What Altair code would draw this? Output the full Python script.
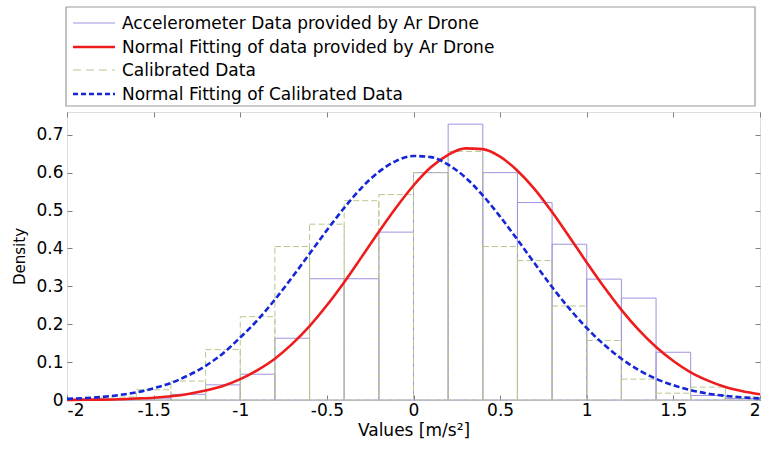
import altair as alt
import pandas as pd

# ---------------- data ----------------
bin_edges = [-2.0, -1.8, -1.6, -1.4, -1.2, -1.0, -0.8, -0.6, -0.4, -0.2, 0.0,
             0.2, 0.4, 0.6, 0.8, 1.0, 1.2, 1.4, 1.6, 1.8, 2.0]
ardrone_density = [0.0, 0.0, 0.005, 0.015, 0.040, 0.068, 0.163, 0.320, 0.320, 0.443,
                   0.600, 0.728, 0.600, 0.521, 0.411, 0.319, 0.269, 0.126, 0.012, 0.004]
calibrated_density = [0.004, 0.008, 0.027, 0.050, 0.133, 0.220, 0.405, 0.464, 0.526, 0.542,
                      0.600, 0.656, 0.405, 0.368, 0.248, 0.157, 0.055, 0.018, 0.034, 0.008]

fit_x = [-2.0, -1.9, -1.8, -1.7, -1.6, -1.5, -1.4, -1.3, -1.2, -1.1, -1.0,
         -0.9, -0.8, -0.7, -0.6, -0.5, -0.4, -0.3, -0.2, -0.1, 0.0,
         0.1, 0.2, 0.3, 0.4, 0.5, 0.6, 0.7, 0.8, 0.9, 1.0,
         1.1, 1.2, 1.3, 1.4, 1.5, 1.6, 1.7, 1.8, 1.9, 2.0]
ardrone_fit = [0.000, 0.001, 0.001, 0.002, 0.004, 0.006, 0.010, 0.016, 0.025, 0.037, 0.055,
               0.079, 0.109, 0.148, 0.195, 0.250, 0.311, 0.377, 0.444, 0.508, 0.566,
               0.614, 0.647, 0.664, 0.662, 0.642, 0.605, 0.556, 0.496, 0.430, 0.363,
               0.298, 0.238, 0.185, 0.140, 0.103, 0.073, 0.051, 0.034, 0.023, 0.015]
calibrated_fit = [0.003, 0.005, 0.008, 0.013, 0.020, 0.031, 0.045, 0.065, 0.090, 0.123, 0.165,
                  0.211, 0.265, 0.324, 0.386, 0.448, 0.507, 0.560, 0.602, 0.631, 0.644,
                  0.641, 0.621, 0.587, 0.540, 0.484, 0.423, 0.360, 0.298, 0.241, 0.190,
                  0.146, 0.109, 0.079, 0.056, 0.039, 0.026, 0.017, 0.011, 0.007, 0.004]

series_names = ["Accelerometer Data provided by Ar Drone",
                "Normal Fitting of data provided by Ar Drone",
                "Calibrated Data",
                "Normal Fitting of Calibrated Data"]
x_ticks = [-2, -1.5, -1, -0.5, 0, 0.5, 1, 1.5, 2]
y_ticks = [0, 0.1, 0.2, 0.3, 0.4, 0.5, 0.6, 0.7]

# ---------------- styling ----------------
FONT = "DejaVu Sans, Liberation Sans, Arial, sans-serif"
PURPLE = "#a192e0"
RED = "#ee1c1c"
GREEN = "#b6c88e"
BLUE = "#1426d6"
FRAME = "#9a9a9a"
TICK = "#808080"
W, H = 693, 288

hist_ar = pd.DataFrame({"x0": bin_edges[:-1], "x1": bin_edges[1:], "density": ardrone_density})
hist_cal = pd.DataFrame({"x0": bin_edges[:-1], "x1": bin_edges[1:], "density": calibrated_density})
fit_ar = pd.DataFrame({"x0": fit_x, "density": ardrone_fit})
fit_cal = pd.DataFrame({"x0": fit_x, "density": calibrated_fit})

xscale = alt.Scale(domain=[-2, 2], nice=False, zero=False)
yscale = alt.Scale(domain=[0, 0.76], nice=False)

# main axes: labels only (ASCII hyphen for negatives, as in the reference)
x_main = alt.Axis(orient="bottom", values=x_ticks, ticks=False, domain=False, grid=False,
                  labelExpr="datum.value < 0 ? '-' + format(-datum.value, '~g') : format(datum.value, '~g')",
                  labelFont=FONT, labelFontSize=17, labelColor="black", labelPadding=2,
                  title="Values [m/s²]", titleFont=FONT, titleFontSize=17, titleFontWeight="normal",
                  titleColor="black", titlePadding=4)
y_main = alt.Axis(orient="left", values=y_ticks, format=".1~f", ticks=False, domain=False, grid=False,
                  labelFont=FONT, labelFontSize=17, labelColor="black", labelPadding=4,
                  title="Density", titleFont=FONT, titleFontSize=15, titleFontWeight="normal",
                  titleColor="black", titlePadding=8)
# inward ticks (bottom and left edges)
x_in_bottom = alt.Axis(orient="top", offset=-H, values=x_ticks, labels=False, domain=False, grid=False,
                       ticks=True, tickSize=5, tickColor=TICK, title=None)
y_in_left = alt.Axis(orient="right", offset=-W, values=y_ticks, labels=False, domain=False, grid=False,
                     ticks=True, tickSize=5, tickColor=TICK, title=None)
# inward ticks (top and right edges)
x_in_top = alt.Axis(orient="bottom", offset=-H, values=x_ticks, labels=False, domain=False, grid=False,
                    ticks=True, tickSize=5, tickColor=TICK, title=None)
y_in_right = alt.Axis(orient="left", offset=-W, values=y_ticks, labels=False, domain=False, grid=False,
                      ticks=True, tickSize=5, tickColor=TICK, title=None)

bars_ar = alt.Chart(hist_ar).mark_rect(fillOpacity=0, stroke=PURPLE, strokeWidth=1).encode(
    x=alt.X("x0:Q", scale=xscale, axis=x_main),
    x2="x1:Q",
    y=alt.Y("density:Q", scale=yscale, axis=y_main),
    y2=alt.datum(0),
)
bars_cal = alt.Chart(hist_cal).mark_rect(fillOpacity=0, stroke=GREEN, strokeWidth=1,
                                         strokeDash=[6, 3]).encode(
    x=alt.X("x0:Q", scale=xscale, axis=x_in_bottom),
    x2="x1:Q",
    y=alt.Y("density:Q", scale=yscale, axis=y_in_left),
    y2=alt.datum(0),
)
line_ar = alt.Chart(fit_ar).mark_line(color=RED, strokeWidth=2.6, interpolate="monotone").encode(
    x=alt.X("x0:Q", scale=xscale, axis=x_in_top),
    y=alt.Y("density:Q", scale=yscale, axis=y_in_right),
)
line_cal = alt.Chart(fit_cal).mark_line(color=BLUE, strokeWidth=2.6, strokeDash=[6, 3],
                                        interpolate="monotone").encode(
    x=alt.X("x0:Q", scale=xscale, axis=None),
    y=alt.Y("density:Q", scale=yscale, axis=None),
)

# ---------------- legend (drawn above the plot area) ----------------
one = pd.DataFrame({"k": [0]})
legend_layers = [
    alt.Chart(one).mark_rect(fill="white", stroke=FRAME, strokeWidth=1.2).encode(
        x=alt.value(-1), x2=alt.value(688), y=alt.value(-105), y2=alt.value(-6))
]
legend_styles = [
    dict(color=PURPLE, strokeWidth=1.2),
    dict(color=RED, strokeWidth=2.6),
    dict(color=GREEN, strokeWidth=1.2, strokeDash=[8, 5]),
    dict(color=BLUE, strokeWidth=2.4, strokeDash=[5, 3]),
]
legend_y = [-89, -65, -42, -18]
for name, style, yy in zip(series_names, legend_styles, legend_y):
    legend_layers.append(
        alt.Chart(one).mark_rule(**style).encode(x=alt.value(6), x2=alt.value(48), y=alt.value(yy))
    )
    legend_layers.append(
        alt.Chart(one).mark_text(align="left", baseline="middle", font=FONT, fontSize=17,
                                 color="black").encode(
            x=alt.value(55), y=alt.value(yy + 1), text=alt.value(name))
    )

chart = alt.layer(bars_ar, bars_cal, line_ar, line_cal, *legend_layers).resolve_axis(
    x="independent", y="independent"
).properties(
    width=W, height=H,
    autosize=alt.AutoSizeParams(type="none"),
    padding={"left": 67, "top": 112, "right": 6, "bottom": 52},
).configure_view(stroke=FRAME, strokeWidth=1.2).configure(background="white")

chart.save("out.html", embed_options={"renderer": "svg", "actions": False})
